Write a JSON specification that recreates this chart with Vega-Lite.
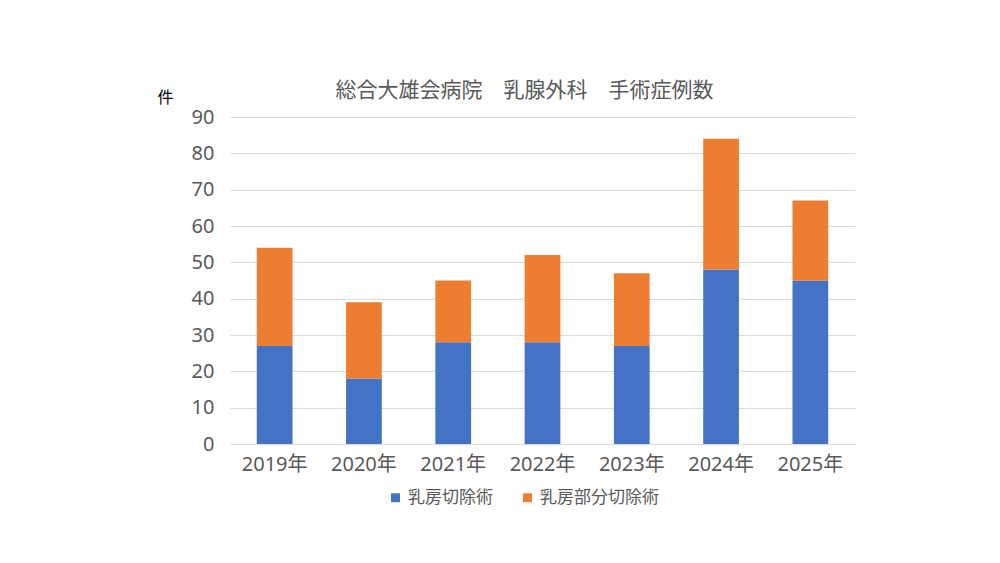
{
  "$schema": "https://vega.github.io/schema/vega-lite/v6.json",
  "autosize": {"type": "none"},
  "width": 625,
  "height": 327,
  "padding": {"left": 230, "top": 117, "right": 145, "bottom": 119},
  "background": "white",
  "title": {
    "text": "総合大雄会病院　乳腺外科　手術症例数",
    "font": "Noto Sans CJK JP",
    "fontSize": 21,
    "fontWeight": "normal",
    "color": "#595959",
    "anchor": "middle",
    "dx": -18,
    "offset": -12
  },
  "data": {
    "values": [
      {"year": "2019年", "type": "乳房切除術", "count": 27, "o": 1},
      {"year": "2019年", "type": "乳房部分切除術", "count": 27, "o": 2},
      {"year": "2020年", "type": "乳房切除術", "count": 18, "o": 1},
      {"year": "2020年", "type": "乳房部分切除術", "count": 21, "o": 2},
      {"year": "2021年", "type": "乳房切除術", "count": 28, "o": 1},
      {"year": "2021年", "type": "乳房部分切除術", "count": 17, "o": 2},
      {"year": "2022年", "type": "乳房切除術", "count": 28, "o": 1},
      {"year": "2022年", "type": "乳房部分切除術", "count": 24, "o": 2},
      {"year": "2023年", "type": "乳房切除術", "count": 27, "o": 1},
      {"year": "2023年", "type": "乳房部分切除術", "count": 20, "o": 2},
      {"year": "2024年", "type": "乳房切除術", "count": 48, "o": 1},
      {"year": "2024年", "type": "乳房部分切除術", "count": 36, "o": 2},
      {"year": "2025年", "type": "乳房切除術", "count": 45, "o": 1},
      {"year": "2025年", "type": "乳房部分切除術", "count": 22, "o": 2}
    ]
  },
  "mark": {"type": "bar"},
  "encoding": {
    "x": {
      "field": "year",
      "type": "nominal",
      "sort": null,
      "scale": {"paddingInner": 0.6, "paddingOuter": 0.3},
      "axis": {
        "title": null,
        "labelAngle": 0,
        "labelFont": "Noto Sans, Noto Sans CJK JP",
        "labelFontSize": 20,
        "labelColor": "#595959",
        "labelPadding": 10,
        "ticks": false,
        "domainColor": "#d9d9d9"
      }
    },
    "y": {
      "field": "count",
      "type": "quantitative",
      "stack": "zero",
      "scale": {"domain": [0, 90]},
      "axis": {
        "values": [0, 10, 20, 30, 40, 50, 60, 70, 80, 90],
        "title": "件",
        "titleAngle": 0,
        "titleX": -65,
        "titleY": -20,
        "titleAlign": "center",
        "titleBaseline": "middle",
        "titleFont": "Noto Sans CJK JP",
        "titleFontSize": 16,
        "titleFontWeight": "normal",
        "titleColor": "#000000",
        "labelFont": "Noto Sans, Noto Sans CJK JP",
        "labelFontSize": 20,
        "labelColor": "#595959",
        "labelPadding": 16,
        "ticks": false,
        "domain": false,
        "gridColor": "#d9d9d9"
      }
    },
    "color": {
      "field": "type",
      "type": "nominal",
      "sort": ["乳房切除術", "乳房部分切除術"],
      "scale": {"domain": ["乳房切除術", "乳房部分切除術"], "range": ["#4472C4", "#ED7D31"]},
      "legend": {
        "title": null,
        "orient": "none",
        "direction": "horizontal",
        "legendX": 157,
        "legendY": 372,
        "symbolType": "square",
        "symbolSize": 80,
        "symbolStrokeWidth": 0,
        "labelFont": "Noto Sans CJK JP",
        "labelFontSize": 17,
        "labelColor": "#595959",
        "columnPadding": 26,
        "labelOffset": 4
      }
    },
    "order": {"field": "o", "type": "quantitative"}
  },
  "config": {"view": {"stroke": null}}
}
